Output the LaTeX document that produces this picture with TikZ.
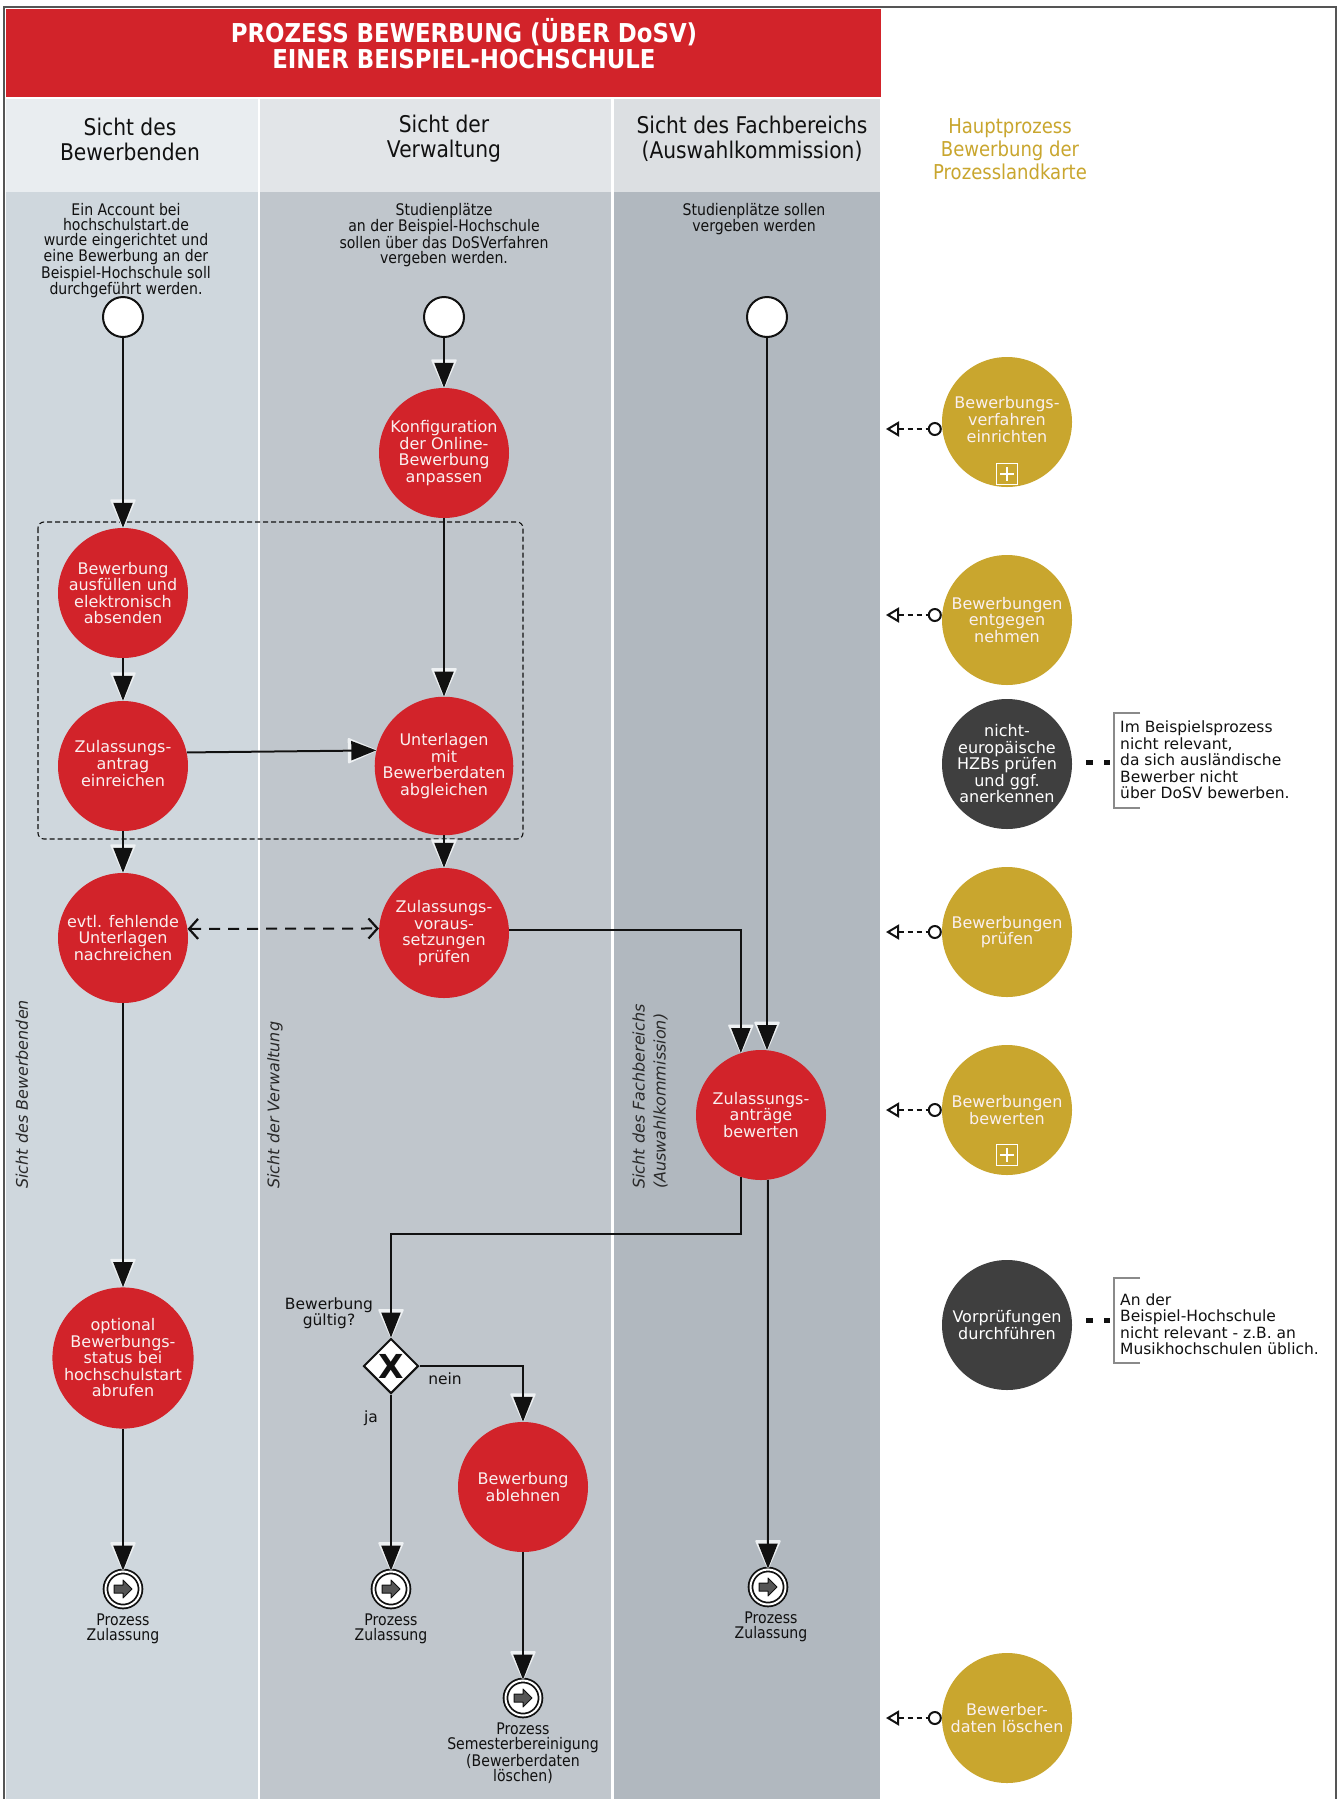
\documentclass[tikz,border=0pt]{standalone}
\usepackage{fontspec}
\setmainfont{DejaVu Sans}
\newfontfamily\condf{DejaVu Sans}[FakeStretch=0.88]
\usetikzlibrary{arrows.meta,calc,shapes.geometric}
\definecolor{bred}{HTML}{D2232A}
\definecolor{bgold}{HTML}{C9A62E}
\definecolor{bdark}{HTML}{3F3F3F}
\definecolor{laneA}{HTML}{CFD7DD}
\definecolor{laneAh}{HTML}{E9EDF0}
\definecolor{laneB}{HTML}{C0C6CC}
\definecolor{laneBh}{HTML}{E2E5E8}
\definecolor{laneC}{HTML}{B1B8BF}
\definecolor{laneCh}{HTML}{DCDFE2}
\definecolor{framec}{HTML}{555555}
\definecolor{ink}{HTML}{111111}
\definecolor{ntext}{HTML}{FAF0F0}
\definecolor{halo}{HTML}{EEF1F3}
\definecolor{arrowgray}{HTML}{555555}
\definecolor{brkgray}{HTML}{8A8A8A}
\newcommand\procarrow[1]{\draw[fill=arrowgray, draw=ink, line width=1pt, line join=round] ($(#1)+(-9,-4)$) -- ++(9,0) -- ++(0,-5) -- ++(9,9) -- ++(-9,9) -- ++(0,-5) -- ++(-9,0) -- cycle;}
\newcommand\subproc[1]{\draw[white, line width=1.8pt] ($(#1)+(-10.5,-10.5)$) rectangle ($(#1)+(10.5,10.5)$); \draw[white, line width=1.8pt] ($(#1)+(-7,0)$) -- ($(#1)+(7,0)$) ($(#1)+(0,-7)$) -- ($(#1)+(0,7)$);}
\begin{document}
\begin{tikzpicture}[x=1pt,y=-1pt,
  task/.style={circle, fill=bred, minimum size=130pt, inner sep=0pt, text=ntext, align=center, font=\fontsize{16}{16.5}\selectfont},
  goldtask/.style={task, fill=bgold},
  darktask/.style={task, fill=bdark, text=white},
  startev/.style={circle, draw=ink, line width=2pt, fill=white, minimum size=40pt, inner sep=0pt},
  endev/.style={circle, draw=ink, line width=1.8pt, double=white, double distance=2pt, fill=white, minimum size=35pt, inner sep=0pt},
  gateway/.style={diamond, draw=ink, line width=2pt, fill=white, minimum width=55pt, minimum height=55pt, inner sep=0pt, text=ink, font=\bfseries\fontsize{33}{33}\selectfont},
  flow/.style={draw=ink, line width=2pt, -{Triangle[length=25pt,width=19pt]},
    preaction={draw=halo, line width=2pt, -{Triangle[length=30pt,width=26pt,round]}}},
  dflow/.style={draw=ink, line width=2pt, dash pattern=on 11pt off 8pt, {Straight Barb[length=9pt,width=20pt,line width=2.2pt]}-{Straight Barb[length=9pt,width=20pt,line width=2.2pt]}},
  assoc/.style={draw=ink, line width=2pt, dash pattern=on 5pt off 4pt, {Triangle[length=13pt,width=15pt,fill=white,line width=2pt]}-{Circle[length=14pt,fill=white,line width=2pt]}},
  annot/.style={draw=ink, line width=5pt, dash pattern=on 7pt off 11pt, shorten <=14pt, shorten >=4pt},
  brk/.style={draw=brkgray, line width=2pt},
  hdr/.style={font=\condf\fontsize{23}{25}\selectfont, text=ink, align=center, inner sep=0pt},
  desc/.style={font=\condf\fontsize{16}{15}\selectfont, text=ink, align=center, inner sep=0pt},
  vlab/.style={font=\itshape\fontsize{16}{21}\selectfont, text=ink!90, align=left, inner sep=0pt, rotate=90, anchor=west},
  plain/.style={font=\fontsize{15.5}{16.5}\selectfont, text=ink, align=center, inner sep=0pt},
  atext/.style={font=\fontsize{15.5}{16.5}\selectfont, text=ink, align=left, inner sep=0pt, anchor=west},
  group/.style={draw=ink, line width=1.1pt, dash pattern=on 5pt off 3pt, rounded corners=6pt}
]
\useasboundingbox (0,0) rectangle (1338,1799);
% backgrounds
\fill[white] (0,0) rectangle (1338,1799);
\fill[bred] (6,9) rectangle (881,97);
\fill[laneAh] (6,99) rectangle (257.5,192);
\fill[laneA] (6,192) rectangle (257.5,1799);
\fill[laneBh] (260,99) rectangle (610.5,192);
\fill[laneB] (260,192) rectangle (610.5,1799);
\fill[laneCh] (613.5,99) rectangle (880,192);
\fill[laneC] (613.5,192) rectangle (880,1799);
\draw[framec, line width=2pt] (4,1799) -- (4,7) -- (1336,7) -- (1336,1799);

% title and headers
\node[font=\condf\bfseries\fontsize{26}{26}\selectfont, text=white, align=center, inner sep=0pt] (title) at (464,44) {PROZESS BEWERBUNG (ÜBER DoSV)\\EINER BEISPIEL-HOCHSCHULE};
\node[hdr] (h1) at (130,139) {Sicht des\\Bewerbenden};
\node[hdr] (h2) at (444,139) {Sicht der\\Verwaltung};
\node[hdr] (h3) at (752,139) {Sicht des Fachbereichs\\(Auswahlkommission)};
\node[hdr, text=bgold, font=\condf\fontsize{20.5}{23}\selectfont] (h4) at (1010,149) {Hauptprozess\\Bewerbung der\\Prozesslandkarte};

% lane descriptions
\node[desc, anchor=north] (d1) at (126,203) {Ein Account bei\\hochschulstart.de\\wurde eingerichtet und\\eine Bewerbung an der\\Beispiel-Hochschule soll\\durchgeführt werden.};
\node[desc, anchor=north] (d2) at (444,203) {Studienplätze\\an der Beispiel-Hochschule\\sollen über das DoSVerfahren\\vergeben werden.};
\node[desc, anchor=north] (d3) at (754,203) {Studienplätze sollen\\vergeben werden};

% rotated lane labels
\node[vlab] (v1) at (22,1189) {Sicht des Bewerbenden};
\node[vlab] (v2) at (275,1189) {Sicht der Verwaltung};
\node[vlab] (v3) at (650,1189) {Sicht des Fachbereichs\\(Auswahlkommission)};

% group
\draw[group] (38,522) rectangle (523,839);

% events
\node[startev] (s1) at (123,317) {};
\node[startev] (s2) at (444,317) {};
\node[startev] (s3) at (767,317) {};

% tasks
\node[task] (konf) at (444,453) {Konfiguration\\der Online-\\Bewerbung\\anpassen};
\node[task] (bew) at (123,593) {Bewerbung\\ausfüllen und\\elektronisch\\absenden};
\node[task] (zul) at (123,766) {\raisebox{7pt}{\begin{tabular}{@{}c@{}}Zulassungs-\\antrag\\einreichen\end{tabular}}};
\node[task] (unt) at (444,766) {Unterlagen\\mit\\Bewerberdaten\\abgleichen};
\node[task] (evtl) at (123,938) {evtl. fehlende\\Unterlagen\\nachreichen};
\node[task] (zvor) at (444,933) {Zulassungs-\\voraus-\\setzungen\\prüfen};
\node[task] (zbew) at (761,1115) {Zulassungs-\\anträge\\bewerten};
\node[task] (opt) at (123,1358) {optional\\Bewerbungs-\\status bei\\hochschulstart\\abrufen};
\node[gateway] (gw) at (391,1366) {X};
\node[task] (abl) at (523,1487) {Bewerbung\\ablehnen};

\node[endev] (e1) at (123,1589) {};
\node[endev] (e2) at (391,1589) {};
\node[endev] (e3) at (768,1587) {};
\node[endev] (e4) at (523,1698) {};
\procarrow{e1}
\procarrow{e2}
\procarrow{e3}
\procarrow{e4}
\node[desc, anchor=north] (l1) at (123,1614) {Prozess\\Zulassung};
\node[desc, anchor=north] (l2) at (391,1614) {Prozess\\Zulassung};
\node[desc, anchor=north] (l3) at (771,1612) {Prozess\\Zulassung};
\node[desc, anchor=north] (l4) at (523,1723) {Prozess\\Semesterbereinigung\\(Bewerberdaten\\löschen)};

\node[plain] (gl) at (329,1313) {Bewerbung\\gültig?};
\node[plain] (nein) at (445,1379) {nein};
\node[plain] (ja) at (371,1418) {ja};

% flows
\draw[flow] (s1) -- (bew);
\draw[flow] (s2) -- (konf);
\draw[flow] (konf) -- (unt);
\draw[flow] (bew) -- (zul);
\draw[flow] (zul.12.4) -- (unt.167.6);
\draw[flow] (zul) -- (evtl);
\draw[flow] (unt) -- (zvor);
\draw[dflow] (evtl.8) -- (zvor.176.5);
\draw[flow] (zvor.3) -| (zbew.108);
\draw[flow] (s3) -- (s3 |- zbew.84);
\draw[flow] (zbew.252) -- ++(0,57) -| (gw.north);
\draw[flow] (zbew.276) -- (e3);
\draw[flow] (evtl) -- (opt);
\draw[flow] (opt) -- (e1);
\draw[flow] (gw) -- (e2);
\draw[flow] (gw.east) -| (abl);
\draw[flow] (abl) -- (e4);

% main process (right lane)
\node[goldtask] (g1) at (1007,422) {\raisebox{-7pt}{\begin{tabular}{@{}c@{}}Bewerbungs-\\verfahren\\einrichten\end{tabular}}};
\node[goldtask] (g2) at (1007,620) {Bewerbungen\\entgegen\\nehmen};
\node[darktask] (hzb) at (1007,764) {nicht-\\europäische\\HZBs prüfen\\und ggf.\\anerkennen};
\node[goldtask] (g4) at (1007,932) {Bewerbungen\\prüfen};
\node[goldtask] (g5) at (1007,1110) {Bewerbungen\\bewerten};
\node[darktask] (vor) at (1007,1325) {Vorprüfungen\\durchführen};
\node[goldtask] (g7) at (1007,1718) {Bewerber-\\daten löschen};
\coordinate (p1) at (1007,474);
\coordinate (p5) at (1007,1155);
\subproc{p1}
\subproc{p5}

\coordinate (a1) at (886,429);
\coordinate (a2) at (886,615);
\coordinate (a4) at (886,932);
\coordinate (a5) at (886,1110);
\coordinate (a7) at (886,1718);
\draw[assoc] (a1) -- (a1 -| g1.west);
\draw[assoc] (a2) -- (a2 -| g2.west);
\draw[assoc] (a4) -- (a4 -| g4.west);
\draw[assoc] (a5) -- (a5 -| g5.west);
\draw[assoc] (a7) -- (a7 -| g7.west);

% annotations
\coordinate (b1) at (1114,762);
\coordinate (b2) at (1114,1320);
\draw[annot] (b1 -| hzb.east) -- (b1);
\draw[annot] (b2 -| vor.east) -- (b2);
\draw[brk] (1140,713) -- (1114,713) -- (1114,808) -- (1140,808);
\draw[brk] (1140,1278) -- (1114,1278) -- (1114,1363) -- (1140,1363);
\node[atext] (t1) at (1120,760) {Im Beispielsprozess\\nicht relevant,\\da sich ausländische\\Bewerber nicht\\über DoSV bewerben.};
\node[atext] (t2) at (1120,1324) {An der\\Beispiel-Hochschule\\nicht relevant - z.B. an\\Musikhochschulen üblich.};
\end{tikzpicture}
\end{document}
